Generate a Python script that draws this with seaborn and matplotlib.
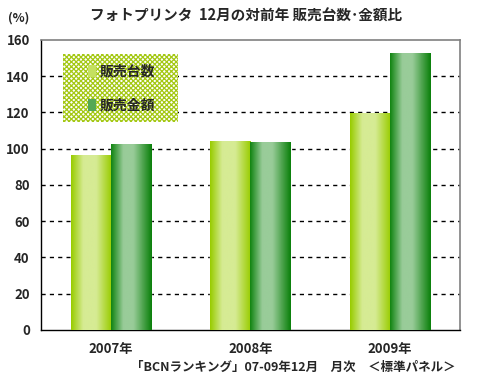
import seaborn as sns
import matplotlib.pyplot as plt
import numpy as np
import pandas as pd
from matplotlib.colors import LinearSegmentedColormap
from matplotlib.patches import Rectangle

#### data
years = ['2007年', '2008年', '2009年']
kinds = ['販売台数', '販売金額']
units = [96.5, 104.2, 119.2]     # 販売台数
amounts = [102.6, 103.2, 152.8]  # 販売金額

title = 'フォトプリンタ  12月の対前年 販売台数･金額比'
source = '「BCNランキング」07-09年12月　月次　＜標準パネル＞'

sns.set_style('white')
plt.rcParams['font.family'] = ['Noto Sans CJK JP', 'DejaVu Sans']
plt.rcParams['font.weight'] = 'bold'

df = pd.DataFrame({
    'year': years * 2,
    'kind': [kinds[0]] * 3 + [kinds[1]] * 3,
    'value': units + amounts,
})

light = LinearSegmentedColormap.from_list('light', [(0, '#99cc00'), (0.3, '#d6eb94'), (0.62, '#d6eb94'), (1, '#99cc00')])
dark = LinearSegmentedColormap.from_list('dark', [(0, '#128512'), (0.3, '#99cc99'), (0.55, '#99cc99'), (1, '#0b800b')])

fig = plt.figure(figsize=(4.98, 3.79), dpi=100)
ax = fig.add_axes([0.0823, 0.1293, 0.8414, 0.7652])

sns.barplot(data=df, x='year', y='value', hue='kind', palette=['#c4e060', '#55a855'],
            width=0.573, saturation=1, legend=False, ax=ax, zorder=2)

## gradient fill on top of each bar
grad = np.linspace(0, 1, 64).reshape(1, -1)
n = len(years)
for i, p in enumerate(ax.patches):
    cm = light if i < n else dark
    x0, y0 = p.get_x(), p.get_y()
    ax.imshow(grad, extent=[x0, x0 + p.get_width(), y0, y0 + p.get_height()],
              aspect='auto', cmap=cm, zorder=3, interpolation='bicubic')

ax.set_xlim(-0.5, 2.5)
ax.set_ylim(0, 160)
ax.set_yticks(range(0, 161, 20))
ax.set_xticks([0.5, 1.5], minor=True)
ax.tick_params(axis='x', which='major', length=0, pad=9, labelsize=9.5)
ax.tick_params(axis='x', which='minor', length=3, direction='in', color='#808080')
ax.tick_params(axis='y', length=0, pad=8, labelsize=9.5)
for lab in ax.get_xticklabels() + ax.get_yticklabels():
    lab.set_fontweight('bold')
ax.set_xlabel('')
ax.set_ylabel('')

ax.yaxis.grid(True, linestyle=(0, (3, 3)), color='black', linewidth=1)
ax.get_ygridlines()[-1].set_visible(False)
ax.get_ygridlines()[0].set_visible(False)
ax.set_axisbelow(True)
for s in ['left', 'bottom']:
    ax.spines[s].set_color('black')
    ax.spines[s].set_linewidth(1)
for s in ['top', 'right']:
    ax.spines[s].set_color('#808080')
    ax.spines[s].set_linewidth(1.2)

## checkered legend background
plt.rcParams['hatch.color'] = '#a4c814'
plt.rcParams['hatch.linewidth'] = 0.9
bg = Rectangle((0.0525, 0.717), 0.2745, 0.235, transform=ax.transAxes,
               facecolor='white', edgecolor='#a4c814', hatch='xxxxxxx', linewidth=0, zorder=4)
ax.add_patch(bg)

handles = [Rectangle((0, 0), 1, 1, facecolor='#c4e060', edgecolor='none'),
           Rectangle((0, 0), 1, 1, facecolor='#55a855', edgecolor='none')]
leg = ax.legend(handles, kinds, loc='upper left', bbox_to_anchor=(0.112, 0.915),
                frameon=False, borderpad=0, borderaxespad=0, handlelength=0.6,
                handleheight=0.9, handletextpad=0.25, labelspacing=1.45,
                prop={'size': 10, 'weight': 'bold'})
leg.set_zorder(5)

fig.text(0.494, 0.958, title, ha='center', va='center', fontsize=10.5, fontweight='bold')
fig.text(0.016, 0.952, '(%)', ha='left', va='center', fontsize=9, fontweight='bold')
fig.text(0.914, 0.031, source, ha='right', va='center', fontsize=9, fontweight='bold')

fig.savefig('out.png', dpi=100)
